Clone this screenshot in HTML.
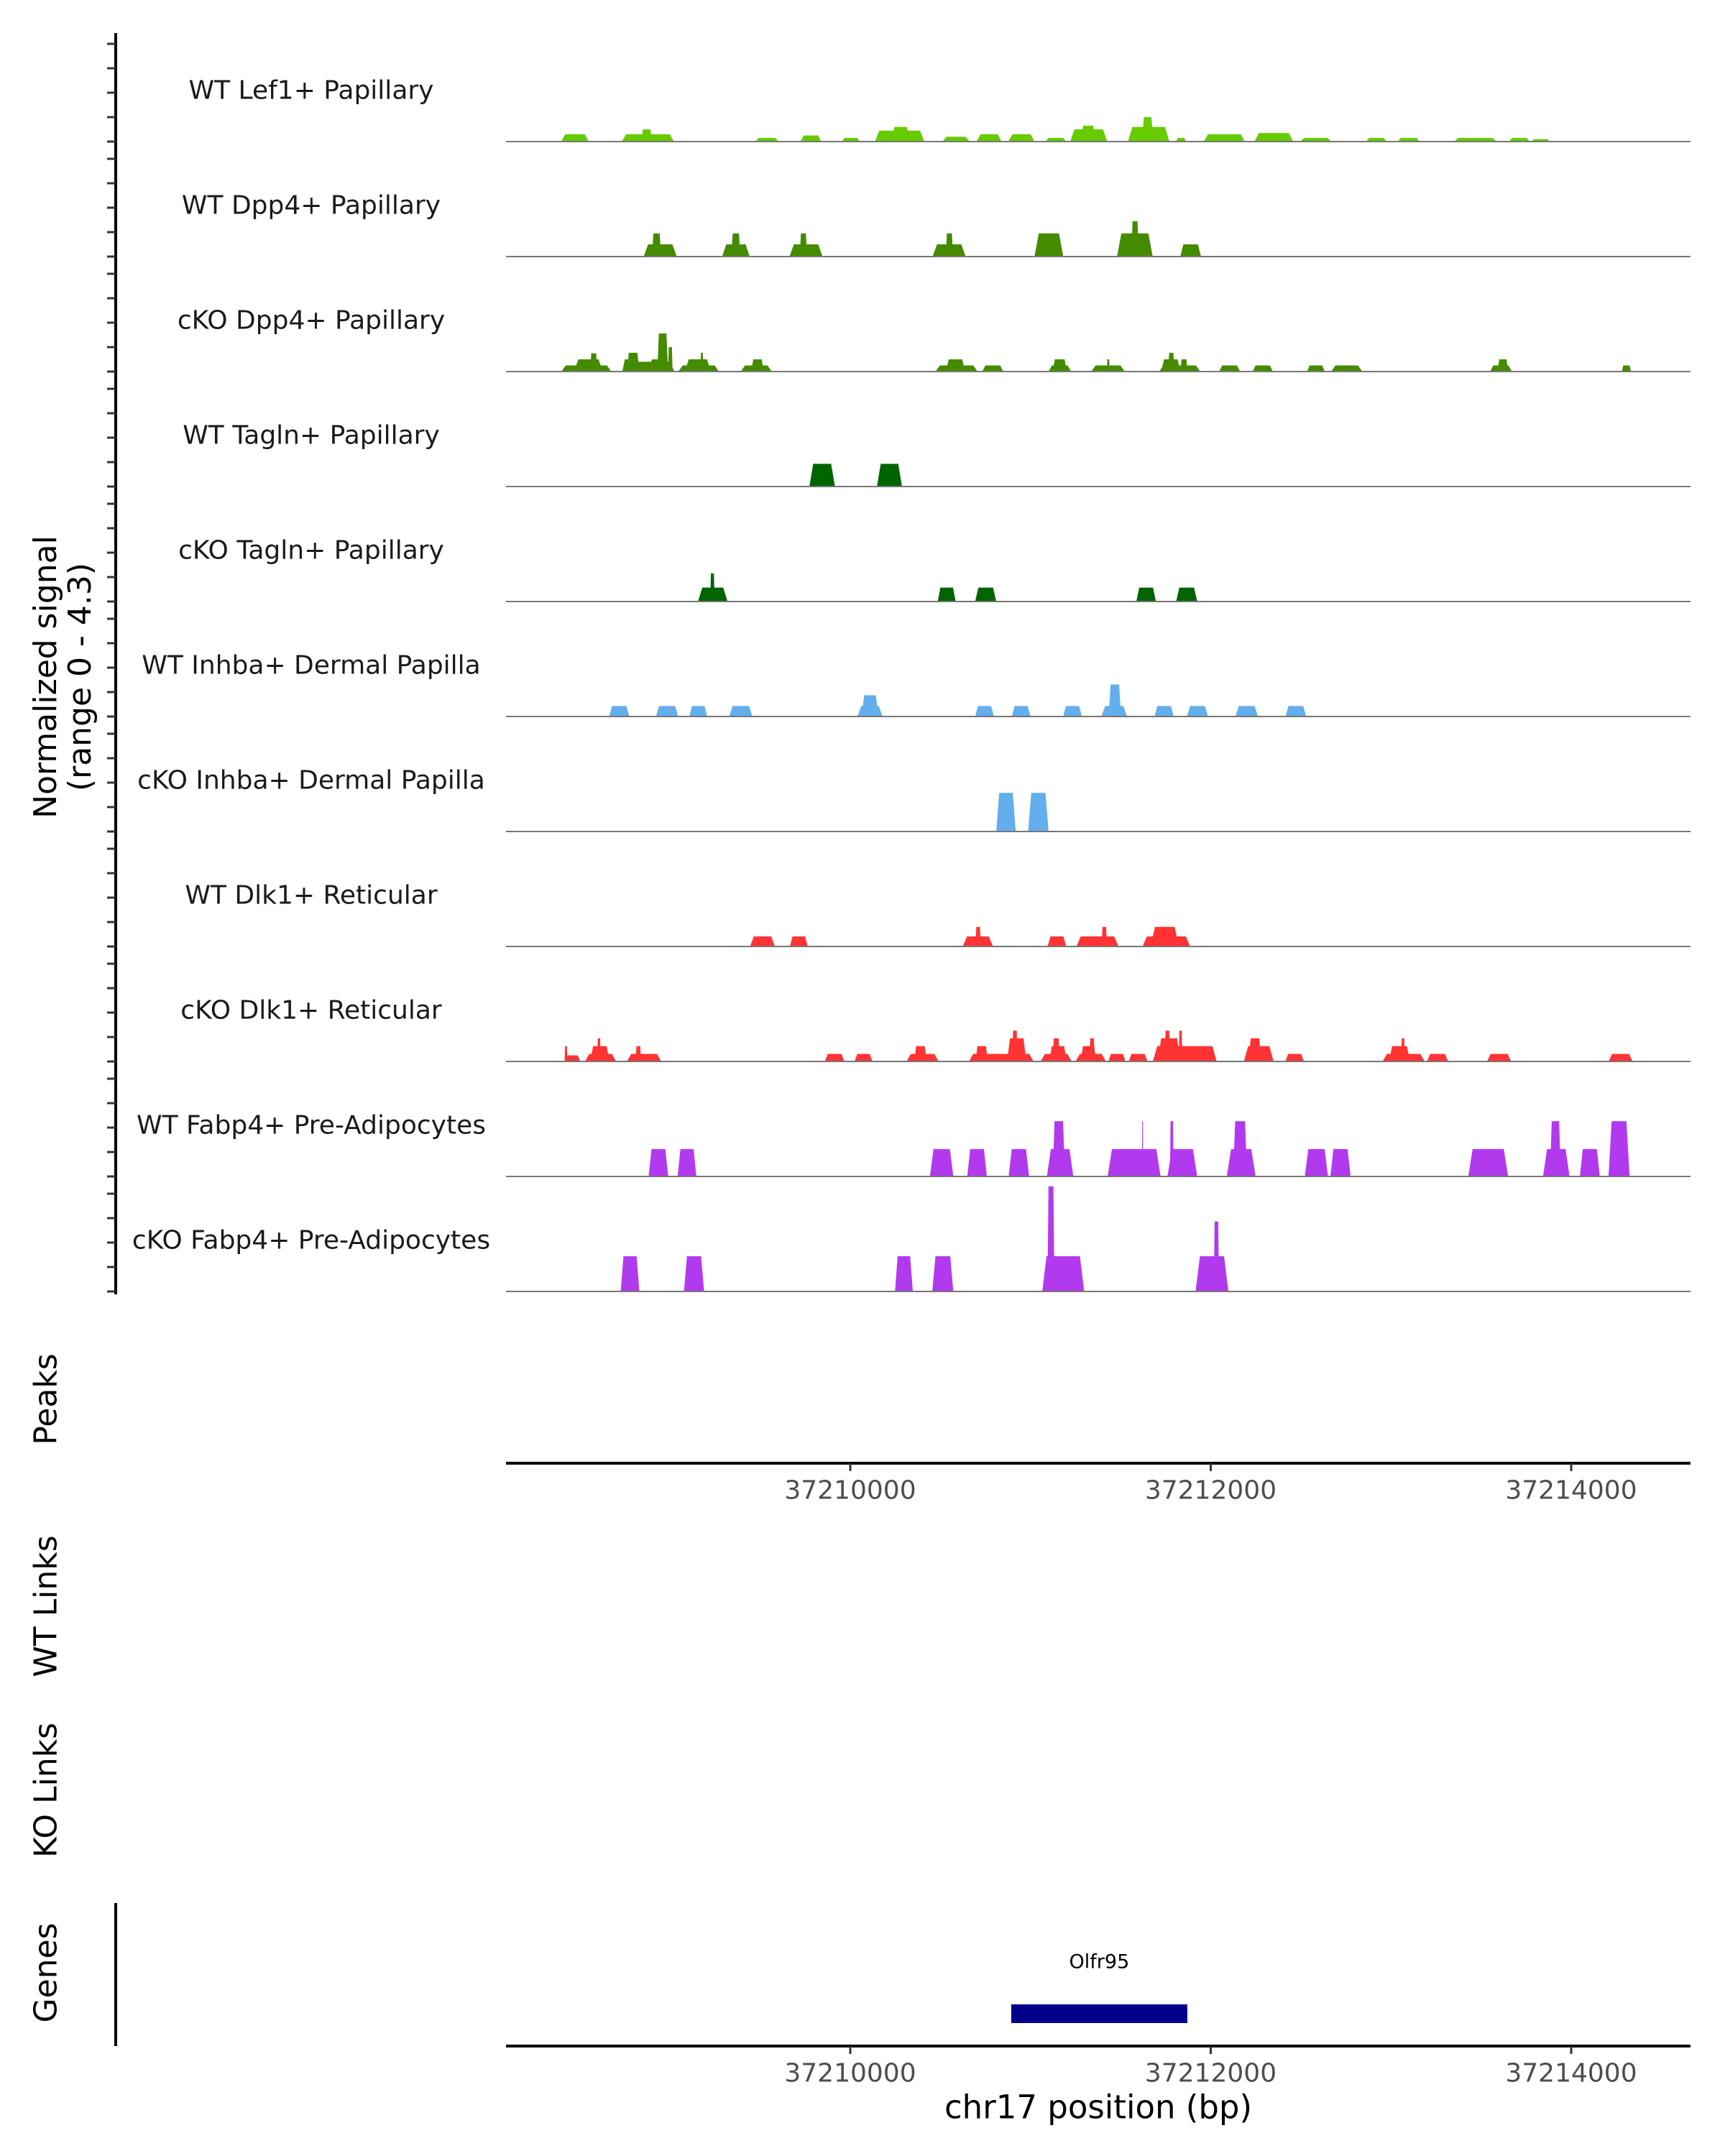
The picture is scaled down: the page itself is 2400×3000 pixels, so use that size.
<!DOCTYPE html>
<html><head><meta charset="utf-8"><style>
html,body{margin:0;padding:0;background:#fff;}
svg{display:block;font-family:"DejaVu Sans","Liberation Sans",sans-serif;}
</style></head><body>
<svg id="chart" width="2400" height="3000" viewBox="0 0 2400 3000" xmlns="http://www.w3.org/2000/svg"></svg>
<script>
// ---- data ----
const regionStart = 37208000;
const xTicks = [37210000, 37212000, 37214000];
const trackNames = ["WT Lef1+ Papillary","WT Dpp4+ Papillary","cKO Dpp4+ Papillary","WT Tagln+ Papillary","cKO Tagln+ Papillary","WT Inhba+ Dermal Papilla","cKO Inhba+ Dermal Papilla","WT Dlk1+ Reticular","cKO Dlk1+ Reticular","WT Fabp4+ Pre-Adipocytes","cKO Fabp4+ Pre-Adipocytes"];
const trackColors = ["#66cc00","#458b00","#458b00","#006400","#006400","#63aeec","#63aeec","#ff3333","#ff3333","#b23aee","#b23aee"];
// peaks: [start offset bp (from regionStart), end offset bp, signal]
const lef1WT = [[396,549,0.3],[732,1022,0.3],[840,900,0.5],[1472,1602,0.15],[1724,1839,0.25],[1953,2053,0.15],[2137,2411,0.45],[2230,2330,0.6],[2511,2663,0.2],[2701,2839,0.3],[2877,3022,0.3],[3083,3198,0.15],[3220,3426,0.5],[3280,3360,0.65],[3541,3770,0.6],[3620,3680,1.0],[3808,3862,0.15],[3961,4190,0.3],[4243,4457,0.35],[4495,4671,0.15],[4862,4976,0.15],[5037,5160,0.15],[5350,5587,0.15],[5655,5770,0.15],[5777,5884,0.1]];
const dpp4WT = [[854,1037,0.5],[900,950,0.95],[1289,1442,0.5],[1340,1390,0.95],[1663,1846,0.5],[1720,1760,0.95],[2457,2640,0.5],[2530,2570,0.95],[3022,3182,0.95],[3480,3678,0.95],[3560,3600,1.45],[3831,3946,0.5]];
const dpp4KO = [[397,674,0.25],[467,627,0.5],[557,596,0.75],[735,1024,0.4],[735,829,0.5],[761,829,0.77],[887,965,0.5],[929,989,1.56],[989,1014,1.0],[1046,1271,0.25],[1082,1227,0.5],[1169,1184,0.77],[1392,1565,0.25],[1451,1519,0.5],[2473,2706,0.25],[2530,2637,0.5],[2732,2849,0.25],[3100,3225,0.25],[3123,3201,0.5],[3337,3523,0.25],[3424,3439,0.5],[3713,3942,0.25],[3725,3832,0.5],[3764,3798,0.77],[3832,3871,0.5],[4046,4163,0.25],[4232,4345,0.25],[4534,4633,0.25],[4668,4841,0.25],[5550,5671,0.25],[5592,5650,0.5],[6281,6332,0.25]];
const taglnWT = [[1773,1915,0.93],[2148,2287,0.93]];
const taglnKO = [[1155,1319,0.57],[1223,1247,1.15],[2485,2585,0.57],[2693,2810,0.57],[3587,3696,0.57],[3808,3925,0.57]];
const inhbaWT = [[662,774,0.43],[921,1046,0.43],[1107,1206,0.43],[1328,1457,0.43],[2040,2179,0.43],[2063,2156,0.87],[2693,2797,0.43],[2896,3000,0.43],[3181,3285,0.43],[3393,3536,0.43],[3434,3502,1.31],[3688,3795,0.43],[3868,3985,0.43],[4137,4262,0.43],[4414,4530,0.43]];
const inhbaKO = [[2810,2918,1.58],[2987,3100,1.58]];
const dlk1WT = [[1444,1582,0.41],[1665,1764,0.41],[2624,2792,0.41],[2695,2724,0.8],[3095,3198,0.41],[3255,3488,0.41],[3395,3424,0.8],[3622,3886,0.41],[3667,3823,0.8]];
const dlk1KO = [[415,430,0.63],[415,501,0.25],[528,701,0.31],[557,664,0.63],[596,615,0.95],[761,951,0.31],[809,839,0.63],[1859,1967,0.31],[2024,2123,0.31],[2312,2490,0.31],[2355,2423,0.63],[2658,3017,0.31],[2695,2763,0.63],[2870,2977,0.95],[2899,2928,1.26],[3056,3229,0.31],[3104,3201,0.63],[3123,3162,0.95],[3250,3419,0.31],[3278,3366,0.63],[3327,3356,0.95],[3432,3527,0.31],[3545,3649,0.31],[3679,4033,0.63],[3706,3832,0.95],[3745,3774,1.26],[3823,3842,1.26],[4184,4349,0.63],[4211,4280,0.95],[4414,4517,0.31],[4954,5187,0.31],[4989,5106,0.63],[5057,5077,0.95],[5200,5317,0.31],[5533,5667,0.31],[6207,6341,0.31]];
const fabp4WT = [[881,990,1.12],[1042,1146,1.12],[2442,2572,1.12],[2649,2758,1.12],[2879,2992,1.12],[3091,3238,1.12],[3123,3191,2.26],[3428,3722,1.12],[3619,3625,2.26],[3760,3925,1.12],[3774,3794,2.26],[4089,4249,1.12],[4124,4202,2.26],[4522,4651,1.12],[4664,4776,1.12],[5429,5650,1.12],[5844,5991,1.12],[5883,5942,2.26],[6048,6159,1.12],[6207,6324,2.26]];
const fabp4KO = [[726,830,1.44],[1077,1189,1.44],[2248,2347,1.44],[2455,2572,1.44],[3065,3298,1.44],[3094,3133,4.3],[3916,4098,1.44],[4017,4046,2.86]];
const trackData = [lef1WT,dpp4WT,dpp4KO,taglnWT,taglnKO,inhbaWT,inhbaKO,dlk1WT,dlk1KO,fabp4WT,fabp4KO];
const yTickValues = [0,1,2,3,4];
const geneName = "Olfr95";
const geneStart = 37210893, geneEnd = 37211870;

// ---- scales ----
const PX_PER_BP = 501.5/2000;
const xScale = bp => 1183 + (bp - 37210000) * PX_PER_BP;
const xOff = off => xScale(regionStart + off);
const PX_PER_UNIT = 34;
const baseY = i => 197 + i * 160;
const yScale = (i, v) => baseY(i) - v * PX_PER_UNIT;
const PLOT_L = 704, PLOT_R = 2352;

const NS = "http://www.w3.org/2000/svg";
const svg = document.getElementById('chart');
function mk(tag, attrs, parent) {
  const e = document.createElementNS(NS, tag);
  for (const k in attrs) e.setAttribute(k, attrs[k]);
  (parent || svg).appendChild(e);
  return e;
}

// left signal axis
const yAxis = mk('g', {});


mk('line', {x1:161,y1:46,x2:161,y2:1801,stroke:'#000','stroke-width':4}, yAxis);
trackData.forEach((_, i) => {
  yTickValues.forEach(v => {
    const t = mk('line', {x1:149,x2:161,y1:yScale(i,v),y2:yScale(i,v),stroke:'#333','stroke-width':3}, yAxis);
    
    
  });
});
const yTitle = mk('text', {transform:'translate(78,942) rotate(-90)','text-anchor':'middle','font-size':44,fill:'#000'});


const l1 = mk('tspan', {x:0,y:0}, yTitle); l1.textContent = 'Normalized signal';
const l2 = mk('tspan', {x:0,y:48}, yTitle); l2.textContent = '(range 0 - 4.3)';

// tracks
trackData.forEach((peaks, i) => {
  const g = mk('g', {});
  
  
  const lab = mk('text', {x:433,y:baseY(i)-71,'text-anchor':'middle','dominant-baseline':'central','font-size':36,fill:'#1a1a1a'}, g);
  lab.textContent = trackNames[i];
  
  
  peaks.forEach(p => {
    const x0 = xOff(p[0]), x1 = xOff(p[1]);
    const w = x1 - x0, s = Math.min(w * 0.15, 6);
    const y0 = baseY(i), yt = yScale(i, p[2]);
    const poly = mk('polygon', {points:`${x0},${y0} ${x0+s},${yt} ${x1-s},${yt} ${x1},${y0}`, fill:trackColors[i]}, g);
    
    
  });
  const bl = mk('line', {x1:PLOT_L,x2:PLOT_R,y1:baseY(i),y2:baseY(i),stroke:'#777','stroke-width':2}, g);
  
  
});

// side titles
[['Peaks',1947,'peaks-title'],['WT Links',2235,'wt-links-title'],['KO Links',2491,'ko-links-title'],['Genes',2745,'genes-title']].forEach(t => {
  const e = mk('text', {transform:`translate(64,${t[1]}) rotate(-90)`,'text-anchor':'middle','dominant-baseline':'central','font-size':44,fill:'#000'});
  e.textContent = t[0];
  
  
});

// x axes
function xAxis(y, name) {
  const g = mk('g', {});
  
  
  mk('line', {x1:PLOT_L,x2:PLOT_R,y1:y,y2:y,stroke:'#000','stroke-width':4}, g);
  xTicks.forEach(t => {
    const x = xScale(t);
    mk('line', {x1:x,x2:x,y1:y,y2:y+11,stroke:'#333','stroke-width':3}, g);
    const tl = mk('text', {x:x,y:y+38,'text-anchor':'middle','dominant-baseline':'central','font-size':36,fill:'#4d4d4d'}, g);
    tl.textContent = String(t);
    
    
  });
}
xAxis(2036, 'peaks-x-axis');
xAxis(2847, 'genes-x-axis');

// genes axis
const ga = mk('line', {x1:161,x2:161,y1:2648,y2:2847,stroke:'#000','stroke-width':4});


const gb = mk('rect', {x:xScale(geneStart),y:2789,width:xScale(geneEnd)-xScale(geneStart),height:26,fill:'#00008b'});


const gl = mk('text', {x:(xScale(geneStart)+xScale(geneEnd))/2,y:2730,'text-anchor':'middle','dominant-baseline':'central','font-size':27,fill:'#000'});
gl.textContent = geneName;



const xt = mk('text', {x:1528,y:2932,'text-anchor':'middle','dominant-baseline':'central','font-size':45,fill:'#000'});
xt.textContent = 'chr17 position (bp)';


</script>
</body></html>
